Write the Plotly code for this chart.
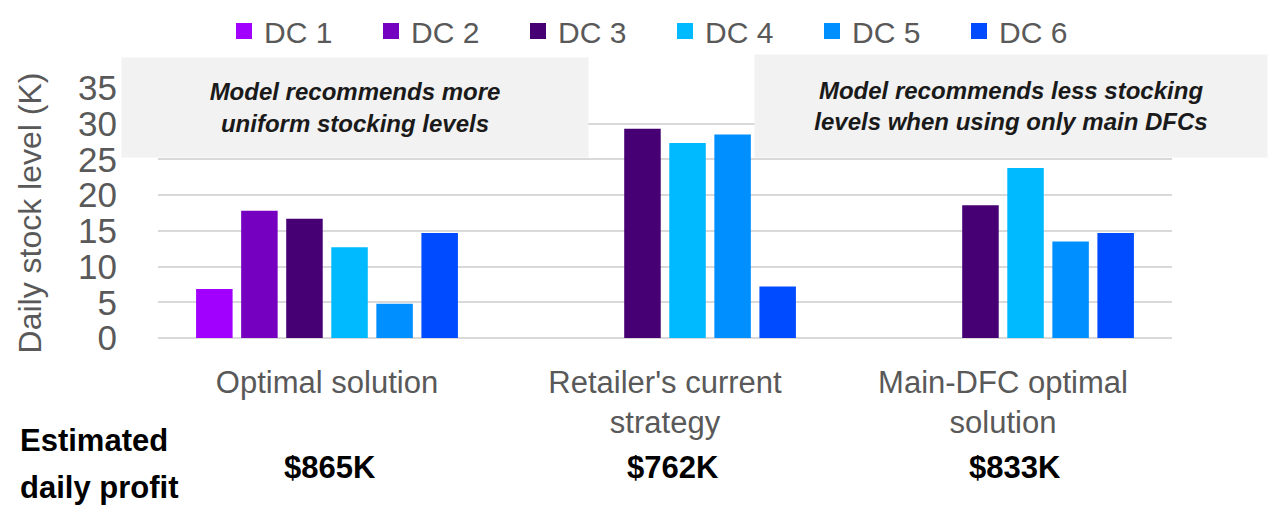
import plotly.graph_objects as go

# ---- data ----
categories = ["Optimal solution", "Retailer's current<br>strategy", "Main-DFC optimal<br>solution"]
series_names = ["DC 1", "DC 2", "DC 3", "DC 4", "DC 5", "DC 6"]
dc1 = [6.85, None, None]
dc2 = [17.8, None, None]
dc3 = [16.7, 29.3, 18.6]
dc4 = [12.7, 27.3, 23.8]
dc5 = [4.8, 28.5, 13.5]
dc6 = [14.7, 7.2, 14.7]
series_values = [dc1, dc2, dc3, dc4, dc5, dc6]
profits = ["$865K", "$762K", "$833K"]
y_ticks = [0, 5, 10, 15, 20, 25, 30, 35]
note_left = "Model recommends more<br>uniform stocking levels"
note_right = "Model recommends less stocking<br>levels when using only main DFCs"

# ---- styles ----
colors = ["#A100FF", "#7500C0", "#460073", "#00BAFF", "#008FFF", "#004BFF"]
FONT = "Liberation Sans, Arial, sans-serif"
GRAY = "#595959"

OFF = 8  # page body margin
W, H = 1280 - OFF, 514 - OFF
ML, MT = 158 - OFF, 88 - OFF
PLOT_RIGHT, PLOT_BOTTOM = 1172 - OFF, 338 - OFF
MR, MB = W - PLOT_RIGHT, H - PLOT_BOTTOM
PW = W - ML - MR
PH = H - MT - MB


def px_x(x):  # screen x -> paper
    return (x - OFF - ML) / PW


def px_y(y):  # screen y -> paper
    return (PLOT_BOTTOM - (y - OFF)) / PH


fig = go.Figure()
for name, vals, col in zip(series_names, series_values, colors):
    fig.add_trace(go.Bar(x=categories, y=vals, name=name, marker=dict(color=col, line=dict(width=0)),
                         showlegend=False))
    # legend proxy with a larger square swatch
    fig.add_trace(go.Scatter(x=[None], y=[None], mode="markers", name=name,
                             marker=dict(symbol="square", size=16, color=col)))

fig.update_layout(
    width=W, height=H,
    margin=dict(l=ML, r=MR, t=MT, b=MB, autoexpand=False),
    paper_bgcolor="white", plot_bgcolor="white",
    barmode="group", bargap=0.2, bargroupgap=0.19,
    font=dict(family=FONT, color=GRAY),
    legend=dict(orientation="h", x=px_x(224), xanchor="left", y=px_y(31), yanchor="middle",
                font=dict(size=30, color=GRAY, family=FONT), entrywidth=102, entrywidthmode="pixels",
                itemclick=False, bgcolor="rgba(0,0,0,0)"),
    showlegend=True,
)

fig.update_xaxes(type="category", categoryorder="array", categoryarray=categories,
                 showgrid=False, showline=False, zeroline=False, ticks="",
                 tickfont=dict(size=31, color=GRAY, family=FONT), ticklabelstandoff=23)
fig.update_yaxes(range=[0, 35], tickvals=y_ticks, showgrid=True, gridcolor="#D9D9D9", gridwidth=2,
                 zeroline=True, zerolinecolor="#D9D9D9", zerolinewidth=2, showline=False, ticks="",
                 tickfont=dict(size=35, color=GRAY, family=FONT), ticklabelstandoff=40,
                 title=dict(text="Daily stock level (K)", font=dict(size=32, color=GRAY, family=FONT), standoff=26))

# note boxes
fig.add_annotation(xref="paper", yref="paper", x=px_x(355), y=px_y(107.5), xanchor="center", yanchor="middle",
                   text="<b><i>" + note_left + "</i></b>", showarrow=False, width=466, height=99,
                   bgcolor="#F2F2F2", borderpad=0, align="center",
                   font=dict(size=24, color="#1a1a1a", family=FONT))
fig.add_annotation(xref="paper", yref="paper", x=px_x(1011), y=px_y(106), xanchor="center", yanchor="middle",
                   text="<b><i>" + note_right + "</i></b>", showarrow=False, width=512, height=102,
                   bgcolor="#F2F2F2", borderpad=0, align="center",
                   font=dict(size=24, color="#1a1a1a", family=FONT))

# estimated profit row
fig.add_annotation(xref="paper", yref="paper", x=px_x(18), y=px_y(440), xanchor="left", yanchor="middle",
                   text="<b>Estimated</b>", showarrow=False, font=dict(size=31, color="#000000", family=FONT))
fig.add_annotation(xref="paper", yref="paper", x=px_x(18), y=px_y(487), xanchor="left", yanchor="middle",
                   text="<b>daily profit</b>", showarrow=False, font=dict(size=31, color="#000000", family=FONT))
shifts = [3, 8, 12]
for cat, p, s in zip(categories, profits, shifts):
    fig.add_annotation(xref="x", yref="paper", x=cat, y=px_y(467), xanchor="center", yanchor="middle",
                       xshift=s, text="<b>" + p + "</b>", showarrow=False,
                       font=dict(size=31, color="#000000", family=FONT))

fig.write_html("out.html")
